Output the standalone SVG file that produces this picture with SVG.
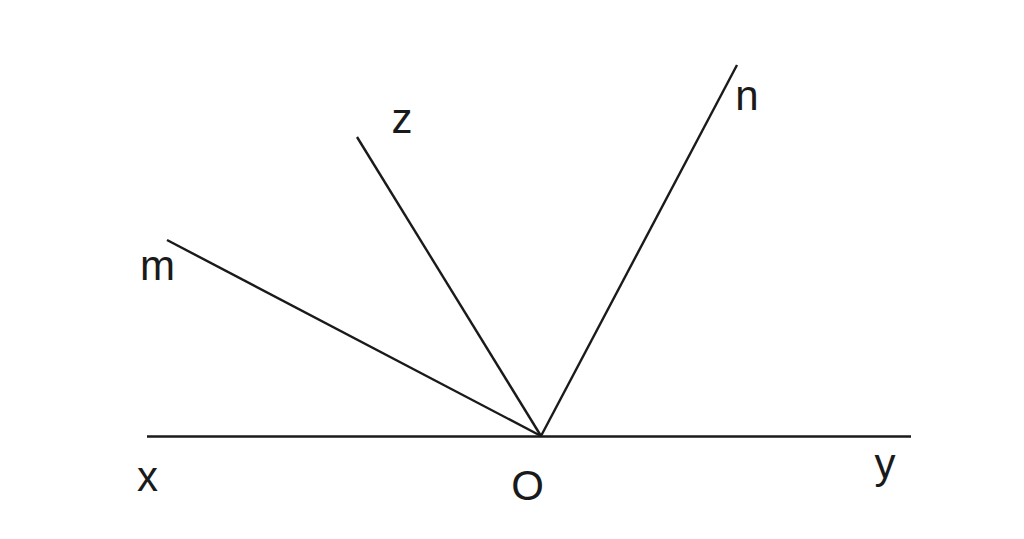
<svg xmlns="http://www.w3.org/2000/svg" width="1024" height="539" viewBox="0 0 1024 539">
<style>
.ln{stroke:#1a1a1a;stroke-width:2.4;fill:none;stroke-linecap:butt}
.lb{font-family:"Liberation Sans",Arial,sans-serif;font-size:42px;fill:#1a1a1a;text-anchor:middle}
</style>
<rect width="1024" height="539" fill="#ffffff"/>
<g id="connectors">
<line class="ln" x1="147" y1="436.5" x2="911" y2="436.5"/>
<line class="ln" x1="167" y1="240" x2="541" y2="436"/>
<line class="ln" x1="357" y1="137" x2="541" y2="436"/>
<line class="ln" x1="737" y1="65" x2="541" y2="436"/>
</g>
<g id="label-m"><text class="lb" x="157.5" y="280">m</text></g>
<g id="label-z"><text class="lb" x="402" y="133">z</text></g>
<g id="label-n"><text class="lb" x="747" y="110">n</text></g>
<g id="label-x"><text class="lb" x="147.5" y="491">x</text></g>
<g id="label-O"><text class="lb" x="527.5" y="500">O</text></g>
<g id="label-y"><text class="lb" x="885" y="478">y</text></g>
</svg>
